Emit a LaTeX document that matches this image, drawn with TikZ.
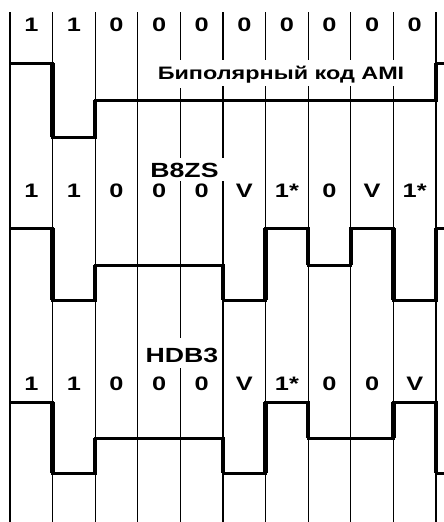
\documentclass[tikz,border=0pt]{standalone}
\usepackage{fontspec}
\setmainfont{Liberation Sans}
\newfontfamily\wfont[FakeStretch=1.3]{Liberation Sans}
\begin{document}
\begin{tikzpicture}[x=1pt,y=-1pt,
  gridline/.style={line width=1.2pt},
  wave/.style={line width=3pt, line join=miter},
  edgeline/.style={line width=4.4pt},
  bit/.style={font=\wfont\bfseries\fontsize{19.5}{22}\selectfont, anchor=base, inner sep=0pt},
  ttl/.style={font=\wfont\bfseries\fontsize{20.5}{22}\selectfont, anchor=base, inner sep=0pt}]
\useasboundingbox (0,0) rectangle (444,522);
% grid lines (x positions)
\foreach \x in {10,52.6,95.2,137.8,436}
  \draw[gridline] (\x,12) -- (\x,522);
\draw[gridline] (180.4,12) -- (180.4,60) (180.4,88) -- (180.4,158)
  (180.4,181) -- (180.4,338) (180.4,368) -- (180.4,522);
\draw[gridline] (223,12) -- (223,60) (223,86) -- (223,158) (223,181) -- (223,522);
\foreach \x in {265.6,308.2,350.8,393.4}
  \draw[gridline] (\x,12) -- (\x,60) (\x,86) -- (\x,522);
% bit labels
\foreach \t [count=\i] in {1,1,0,0,0,0,0,0,0,0}
  \node[bit] (a\i) at ({10+42.6*(\i-0.5)},31) {\t};
\foreach \t [count=\i] in {1,1,0,0,0,V,1*,0,V,1*}
  \node[bit] (b\i) at ({10+42.6*(\i-0.5)},197) {\t};
\foreach \t [count=\i] in {1,1,0,0,0,V,1*,0,0,V}
  \node[bit] (h\i) at ({10+42.6*(\i-0.5)},390) {\t};
% titles
\node[ttl, font=\wfont\bfseries\fontsize{18}{20}\selectfont] (tami) at (281,79) {Биполярный код AMI};
\node[ttl] (tb8) at (184.5,177) {B8ZS};
\node[ttl] (thd) at (182,362) {HDB3};
% AMI
\draw[wave] (10,63) -- (52.6,63) -- (52.6,137) -- (95.2,137) -- (95.2,100)
  -- (436,100) -- (436,63) -- (444,63);
\draw[edgeline] (52.6,63) -- (52.6,137) (95.2,137) -- (95.2,100) (436,100) -- (436,63);
% B8ZS
\draw[wave] (10,228) -- (52.6,228) -- (52.6,300) -- (95.2,300) -- (95.2,265)
  -- (223,265) -- (223,300) -- (265.6,300) -- (265.6,228) -- (308.2,228)
  -- (308.2,265) -- (350.8,265) -- (350.8,228) -- (393.4,228) -- (393.4,300)
  -- (436,300) -- (436,228) -- (444,228);
\draw[edgeline] (52.6,228) -- (52.6,300) (95.2,300) -- (95.2,265) (223,265) -- (223,300)
  (265.6,300) -- (265.6,228) (308.2,228) -- (308.2,265) (350.8,265) -- (350.8,228)
  (393.4,228) -- (393.4,300) (436,300) -- (436,228);
% HDB3
\draw[wave] (10,402) -- (52.6,402) -- (52.6,473) -- (95.2,473) -- (95.2,438)
  -- (223,438) -- (223,473) -- (265.6,473) -- (265.6,402) -- (308.2,402)
  -- (308.2,438) -- (393.4,438) -- (393.4,402) -- (436,402) -- (436,473) -- (444,473);
\draw[edgeline] (52.6,402) -- (52.6,473) (95.2,473) -- (95.2,438) (223,438) -- (223,473)
  (265.6,473) -- (265.6,402) (308.2,402) -- (308.2,438) (393.4,438) -- (393.4,402)
  (436,402) -- (436,473);
\end{tikzpicture}
\end{document}
